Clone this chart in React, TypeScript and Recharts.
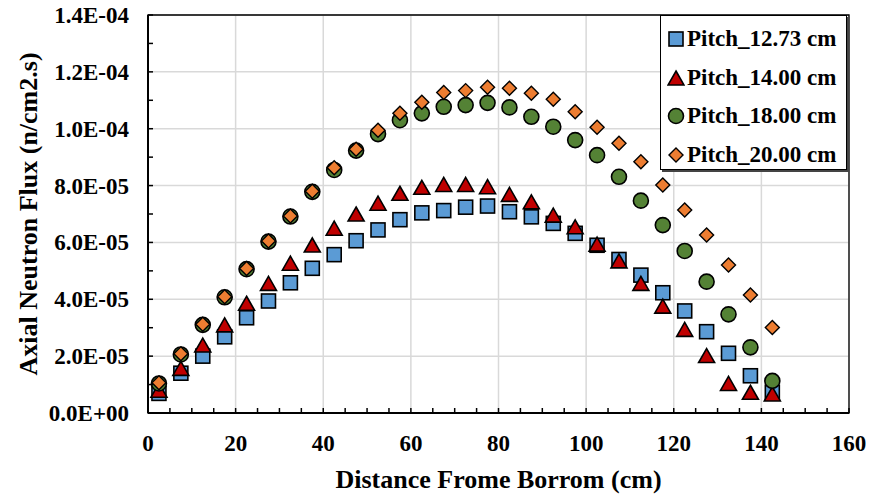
import React from "react";
import {
  ScatterChart,
  Scatter,
  XAxis,
  YAxis,
  CartesianGrid,
  ReferenceArea,
  Label,
} from "recharts";

const distances = [
  2.5, 7.5, 12.5, 17.5, 22.5, 27.5, 32.5, 37.5, 42.5, 47.5, 52.5, 57.5, 62.5, 67.5, 72.5,
  77.5, 82.5, 87.5, 92.5, 97.5, 102.5, 107.5, 112.5, 117.5, 122.5, 127.5, 132.5, 137.5, 142.5,
];

// values in units of 1e-6 n/cm2.s
const pitch1273 = [
  6.9, 14.0, 20.0, 26.8, 33.5, 39.4, 45.8, 50.9, 55.7, 60.6, 64.4, 68.0, 70.4, 71.2, 72.4,
  72.8, 70.8, 69.0, 66.7, 63.2, 59.0, 54.0, 48.5, 42.3, 35.9, 28.6, 21.0, 13.1, 7.3,
];
const pitch1400 = [
  8.0, 15.7, 23.9, 31.0, 38.6, 45.6, 52.7, 59.1, 65.0, 70.0, 73.8, 77.3, 79.4, 80.4, 80.4,
  79.6, 76.9, 74.3, 69.6, 65.5, 59.4, 53.5, 45.6, 37.6, 29.4, 20.2, 10.4, 7.3, 6.7,
];
const pitch1800 = [
  10.4, 20.6, 31.0, 40.7, 50.6, 60.3, 69.1, 77.8, 85.5, 92.3, 98.1, 103.0, 105.4, 107.7, 108.3,
  109.1, 107.5, 104.2, 100.7, 96.0, 90.7, 83.1, 74.7, 66.1, 57.0, 46.2, 34.7, 23.1, 11.3,
];
const pitch2000 = [
  10.6, 20.8, 31.2, 40.9, 50.8, 60.5, 69.3, 78.0, 86.3, 92.8, 99.5, 105.4, 109.3, 112.7, 113.4,
  114.6, 114.2, 112.5, 110.4, 106.0, 100.5, 94.9, 88.4, 80.2, 71.4, 62.6, 52.1, 41.5, 30.1,
];

const seriesNames = ["Pitch_12.73 cm", "Pitch_14.00 cm", "Pitch_18.00 cm", "Pitch_20.00 cm"];
const seriesColors = ["#5B9BD5", "#C00000", "#548235", "#ED7D31"];
const seriesShapes = ["square", "triangle", "circle", "diamond"];
const seriesValues = [pitch1273, pitch1400, pitch1800, pitch2000];

const xTicks = Array.from({ length: 33 }, (_, i) => i * 5);
const xMajor = [0, 20, 40, 60, 80, 100, 120, 140, 160];
const yTicks = Array.from({ length: 15 }, (_, i) => i * 1e-5);
const yMajor = [0, 2e-5, 4e-5, 6e-5, 8e-5, 1e-4, 1.2e-4, 1.4e-4];
const yMajorLabels = ["0.0E+00", "2.0E-05", "4.0E-05", "6.0E-05", "8.0E-05", "1.0E-04", "1.2E-04", "1.4E-04"];

const FONT = "Liberation Serif, Tinos, DejaVu Serif, serif";

const buildData = (vals: number[]) => distances.map((d, i) => ({ x: d, y: vals[i] * 1e-6 }));

function Marker({ kind, cx, cy, color }: { kind: string; cx: number; cy: number; color: string }) {
  if (cx == null || cy == null) return null;
  if (kind === "square") {
    return <rect x={cx - 7} y={cy - 7} width={14} height={14} fill={color} stroke="#000" strokeWidth={1.6} />;
  }
  if (kind === "triangle") {
    const h = 14;
    return (
      <polygon
        points={`${cx},${cy - h / 2} ${cx + 8},${cy + h / 2} ${cx - 8},${cy + h / 2}`}
        fill={color}
        stroke="#000"
        strokeWidth={1.6}
      />
    );
  }
  if (kind === "circle") {
    return <circle cx={cx} cy={cy} r={7.5} fill={color} stroke="#000" strokeWidth={1.6} />;
  }
  return (
    <polygon
      points={`${cx},${cy - 7} ${cx + 7},${cy} ${cx},${cy + 7} ${cx - 7},${cy}`}
      fill={color}
      stroke="#000"
      strokeWidth={1.4}
    />
  );
}

function XTick(props: any) {
  const { x, y, payload } = props;
  const v = payload.value;
  const major = xMajor.includes(v);
  return (
    <g>
      <line x1={x} x2={x} y1={y} y2={y - 5} stroke="#000" strokeWidth={1.5} />
      {major && (
        <text x={x} y={y + 22} dy="0.71em" textAnchor="middle" style={{ fontFamily: FONT }} fontWeight="bold" fontSize={23} fill="#000">
          {v}
        </text>
      )}
    </g>
  );
}

function YTick(props: any) {
  const { x, y, payload } = props;
  const v = payload.value;
  const idx = yMajor.findIndex((m) => Math.abs(m - v) < 1e-9);
  return (
    <g>
      <line x1={x} x2={x + 5} y1={y} y2={y} stroke="#000" strokeWidth={1.5} />
      {idx >= 0 && (
        <text x={x - 19} y={y} dy="0.35em" textAnchor="end" style={{ fontFamily: FONT }} fontWeight="bold" fontSize={23} fill="#000">
          {yMajorLabels[idx]}
        </text>
      )}
    </g>
  );
}

function LegendMarker({ kind, color }: { kind: string; color: string }) {
  return (
    <svg width={18} height={18} style={{ display: "block" }}>
      <Marker kind={kind} cx={9} cy={9} color={color} />
    </svg>
  );
}

export default function App() {
  return (
    <div style={{ position: "absolute", left: 0, top: 0, width: 870, height: 495, background: "#fff", fontFamily: FONT }}>
      <ScatterChart width={870} height={495} margin={{ top: 15, right: 21, bottom: 0, left: 0 }} style={{ fontFamily: FONT }}>
        <CartesianGrid
          stroke="#d9d9d9"
          strokeWidth={1.5}
          horizontalValues={yMajor.slice(1)}
          verticalValues={xMajor.slice(1)}
        />
        <XAxis
          type="number"
          dataKey="x"
          domain={[0, 160]}
          ticks={xTicks}
          interval={0}
          height={82}
          tickSize={0}
          tickMargin={0}
          tickLine={false}
          axisLine={{ stroke: "#000", strokeWidth: 2 }}
          tick={<XTick />}
        >
          <Label
            content={(p: any) => {
              const vb = p.viewBox;
              return (
                <text x={vb.x + vb.width / 2} y={vb.y + 75} textAnchor="middle" style={{ fontFamily: FONT }} fontWeight="bold" fontSize={26} fill="#000">
                  Distance Frome Borrom (cm)
                </text>
              );
            }}
          />
        </XAxis>
        <YAxis
          type="number"
          dataKey="y"
          domain={[0, 1.4e-4]}
          ticks={yTicks}
          interval={0}
          width={148}
          tickSize={0}
          tickMargin={0}
          tickLine={false}
          axisLine={{ stroke: "#000", strokeWidth: 2 }}
          tick={<YTick />}
        >
          <Label
            content={(p: any) => {
              const vb = p.viewBox;
              const cx = 37;
              const cy = vb.y + vb.height / 2;
              return (
                <text
                  x={cx}
                  y={cy}
                  transform={`rotate(-90 ${cx} ${cy})`}
                  textAnchor="middle"
                  style={{ fontFamily: FONT }}
                  fontWeight="bold"
                  fontSize={26}
                  fill="#000"
                >
                  Axial Neutron Flux (n/cm2.s)
                </text>
              );
            }}
          />
        </YAxis>
        <ReferenceArea x1={0} x2={160} y1={0} y2={1.4e-4} fill="none" stroke="#000" strokeWidth={1.3} />
        {seriesValues.map((vals, si) => (
          <Scatter
            key={seriesNames[si]}
            name={seriesNames[si]}
            data={buildData(vals)}
            isAnimationActive={false}
            shape={(p: any) => <Marker kind={seriesShapes[si]} cx={p.cx} cy={p.cy} color={seriesColors[si]} />}
          />
        ))}
      </ScatterChart>
      <div
        style={{
          position: "absolute",
          left: 660,
          top: 15,
          width: 187,
          height: 155,
          background: "#fff",
          border: "1.5px solid #000",
          boxShadow: "2px 2px 0 #444",
          boxSizing: "border-box",
          paddingTop: 4,
        }}
      >
        {seriesNames.map((n, i) => (
          <div key={n} style={{ display: "flex", alignItems: "center", height: 38.5, paddingLeft: 6 }}>
            <LegendMarker kind={seriesShapes[i]} color={seriesColors[i]} />
            <span style={{ fontFamily: FONT, fontWeight: "bold", fontSize: 23, color: "#000", marginLeft: 2, whiteSpace: "nowrap" }}>
              {n}
            </span>
          </div>
        ))}
      </div>
    </div>
  );
}
